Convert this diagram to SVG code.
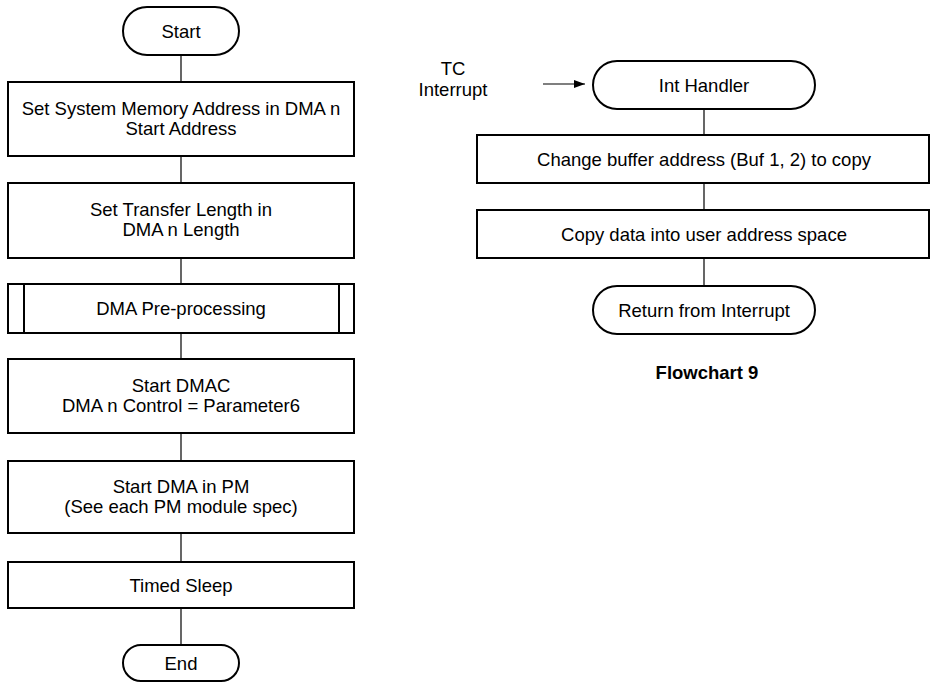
<svg xmlns="http://www.w3.org/2000/svg" width="931" height="684" viewBox="0 0 931 684">
<defs>
<marker id="ah" markerWidth="11" markerHeight="8" refX="11" refY="4" orient="auto" markerUnits="userSpaceOnUse">
<path d="M0,0 L11,4 L0,8 Z" fill="#000"/>
</marker>
<style>
.b{fill:#fff;stroke:#000;stroke-width:2}
.t{font-family:"Liberation Sans",Arial,sans-serif;font-size:18.5px;fill:#000;text-anchor:middle;dominant-baseline:central}
.c{stroke:#000;stroke-width:1.2;fill:none}
</style>
</defs>
<rect width="931" height="684" fill="#fff"/>
<g id="connectors">
<line class="c" x1="181" y1="56" x2="181" y2="82"/>
<line class="c" x1="181" y1="156" x2="181" y2="183"/>
<line class="c" x1="181" y1="258" x2="181" y2="284"/>
<line class="c" x1="181" y1="333" x2="181" y2="359"/>
<line class="c" x1="181" y1="433" x2="181" y2="461"/>
<line class="c" x1="181" y1="533" x2="181" y2="562"/>
<line class="c" x1="181" y1="608" x2="181" y2="645"/>
<line class="c" x1="704" y1="109" x2="704" y2="135"/>
<line class="c" x1="704" y1="183" x2="704" y2="210"/>
<line class="c" x1="704" y1="258" x2="704" y2="286"/>
<line class="c" x1="543" y1="84" x2="585" y2="84" marker-end="url(#ah)"/>
</g>
<g id="start">
<rect class="b" x="123" y="7" width="116" height="48" rx="24"/>
<text class="t" x="181" y="31">Start</text>
</g>
<g id="box1">
<rect class="b" x="8" y="82" width="346" height="74"/>
<text class="t" x="181" y="108">Set System Memory Address in DMA n</text>
<text class="t" x="181" y="128">Start Address</text>
</g>
<g id="box2">
<rect class="b" x="8" y="183" width="346" height="75"/>
<text class="t" x="181" y="209">Set Transfer Length in</text>
<text class="t" x="181" y="229">DMA n Length</text>
</g>
<g id="box3">
<rect class="b" x="8" y="284" width="346" height="49"/>
<line x1="24" y1="284" x2="24" y2="333" stroke="#000" stroke-width="2"/>
<line x1="339" y1="284" x2="339" y2="333" stroke="#000" stroke-width="2"/>
<text class="t" x="181" y="308">DMA Pre-processing</text>
</g>
<g id="box4">
<rect class="b" x="8" y="359" width="346" height="74"/>
<text class="t" x="181" y="385">Start DMAC</text>
<text class="t" x="181" y="405">DMA n Control = Parameter6</text>
</g>
<g id="box5">
<rect class="b" x="8" y="461" width="346" height="72"/>
<text class="t" x="181" y="486">Start DMA in PM</text>
<text class="t" x="181" y="506">(See each PM module spec)</text>
</g>
<g id="box6">
<rect class="b" x="8" y="562" width="346" height="46"/>
<text class="t" x="181" y="585">Timed Sleep</text>
</g>
<g id="end">
<rect class="b" x="123" y="645" width="116" height="36" rx="18"/>
<text class="t" x="181" y="663">End</text>
</g>
<g id="tc">
<text class="t" x="453" y="68">TC</text>
<text class="t" x="453" y="89">Interrupt</text>
</g>
<g id="inthandler">
<rect class="b" x="593" y="61" width="222" height="48" rx="24"/>
<text class="t" x="704" y="85">Int Handler</text>
</g>
<g id="change">
<rect class="b" x="477" y="135" width="452" height="48"/>
<text class="t" x="704" y="159">Change buffer address (Buf 1, 2) to copy</text>
</g>
<g id="copy">
<rect class="b" x="477" y="210" width="452" height="48"/>
<text class="t" x="704" y="234">Copy data into user address space</text>
</g>
<g id="return">
<rect class="b" x="593" y="286" width="222" height="48" rx="24"/>
<text class="t" x="704" y="310">Return from Interrupt</text>
</g>
<g id="caption">
<text class="t" x="707" y="372" style="font-weight:bold">Flowchart 9</text>
</g>
</svg>
